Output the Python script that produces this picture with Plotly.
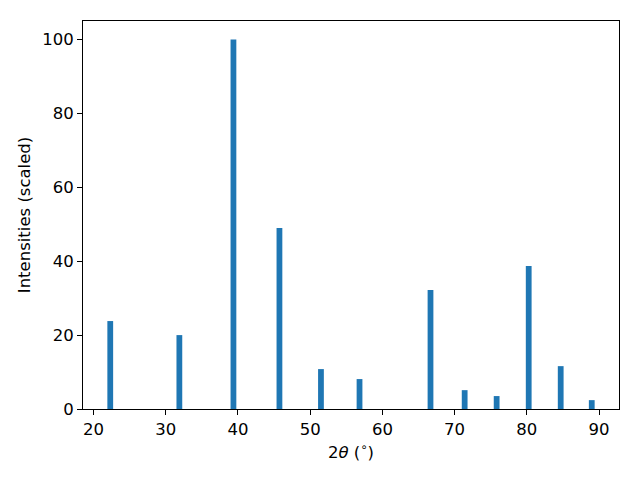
import plotly.graph_objects as go

two_theta = [22.31, 31.88, 39.37, 45.74, 51.49, 56.83, 66.66, 71.39, 75.82, 80.26, 84.69, 88.99]
intensity = [23.8, 20.0, 100.0, 49.0, 10.8, 8.1, 32.2, 5.1, 3.5, 38.7, 11.6, 2.4]
bar_width = 0.8
x_ticks = [20, 30, 40, 50, 60, 70, 80, 90]
y_ticks = [0, 20, 40, 60, 80, 100]

fig = go.Figure(go.Bar(x=two_theta, y=intensity, width=bar_width,
                       marker=dict(color="#1f77b4", line=dict(width=0))))

axis_common = dict(showgrid=False, zeroline=False, showline=True, linecolor="black",
                   linewidth=1, mirror=True, ticks="outside", ticklen=5, tickwidth=1,
                   tickcolor="black", tickfont=dict(size=16.5, color="black"))

lo = min(two_theta) - bar_width / 2
hi = max(two_theta) + bar_width / 2
span = hi - lo
fig.update_xaxes(range=[lo - 0.05 * span, hi + 0.05 * span], tickvals=x_ticks,
                 title=dict(text="2<i>θ</i> (<sup>∘</sup>)", font=dict(size=16.5, color="black"), standoff=8),
                 **axis_common)
fig.update_yaxes(range=[0, 105], tickvals=y_ticks,
                 title=dict(text="Intensities (scaled)", font=dict(size=16.5, color="black"), standoff=7),
                 **axis_common)

fig.update_layout(width=640, height=480, margin=dict(l=75, r=29, t=13, b=79),
                  plot_bgcolor="white", paper_bgcolor="white",
                  font=dict(family="DejaVu Sans", color="black"), showlegend=False)

fig.write_html("out.html")
